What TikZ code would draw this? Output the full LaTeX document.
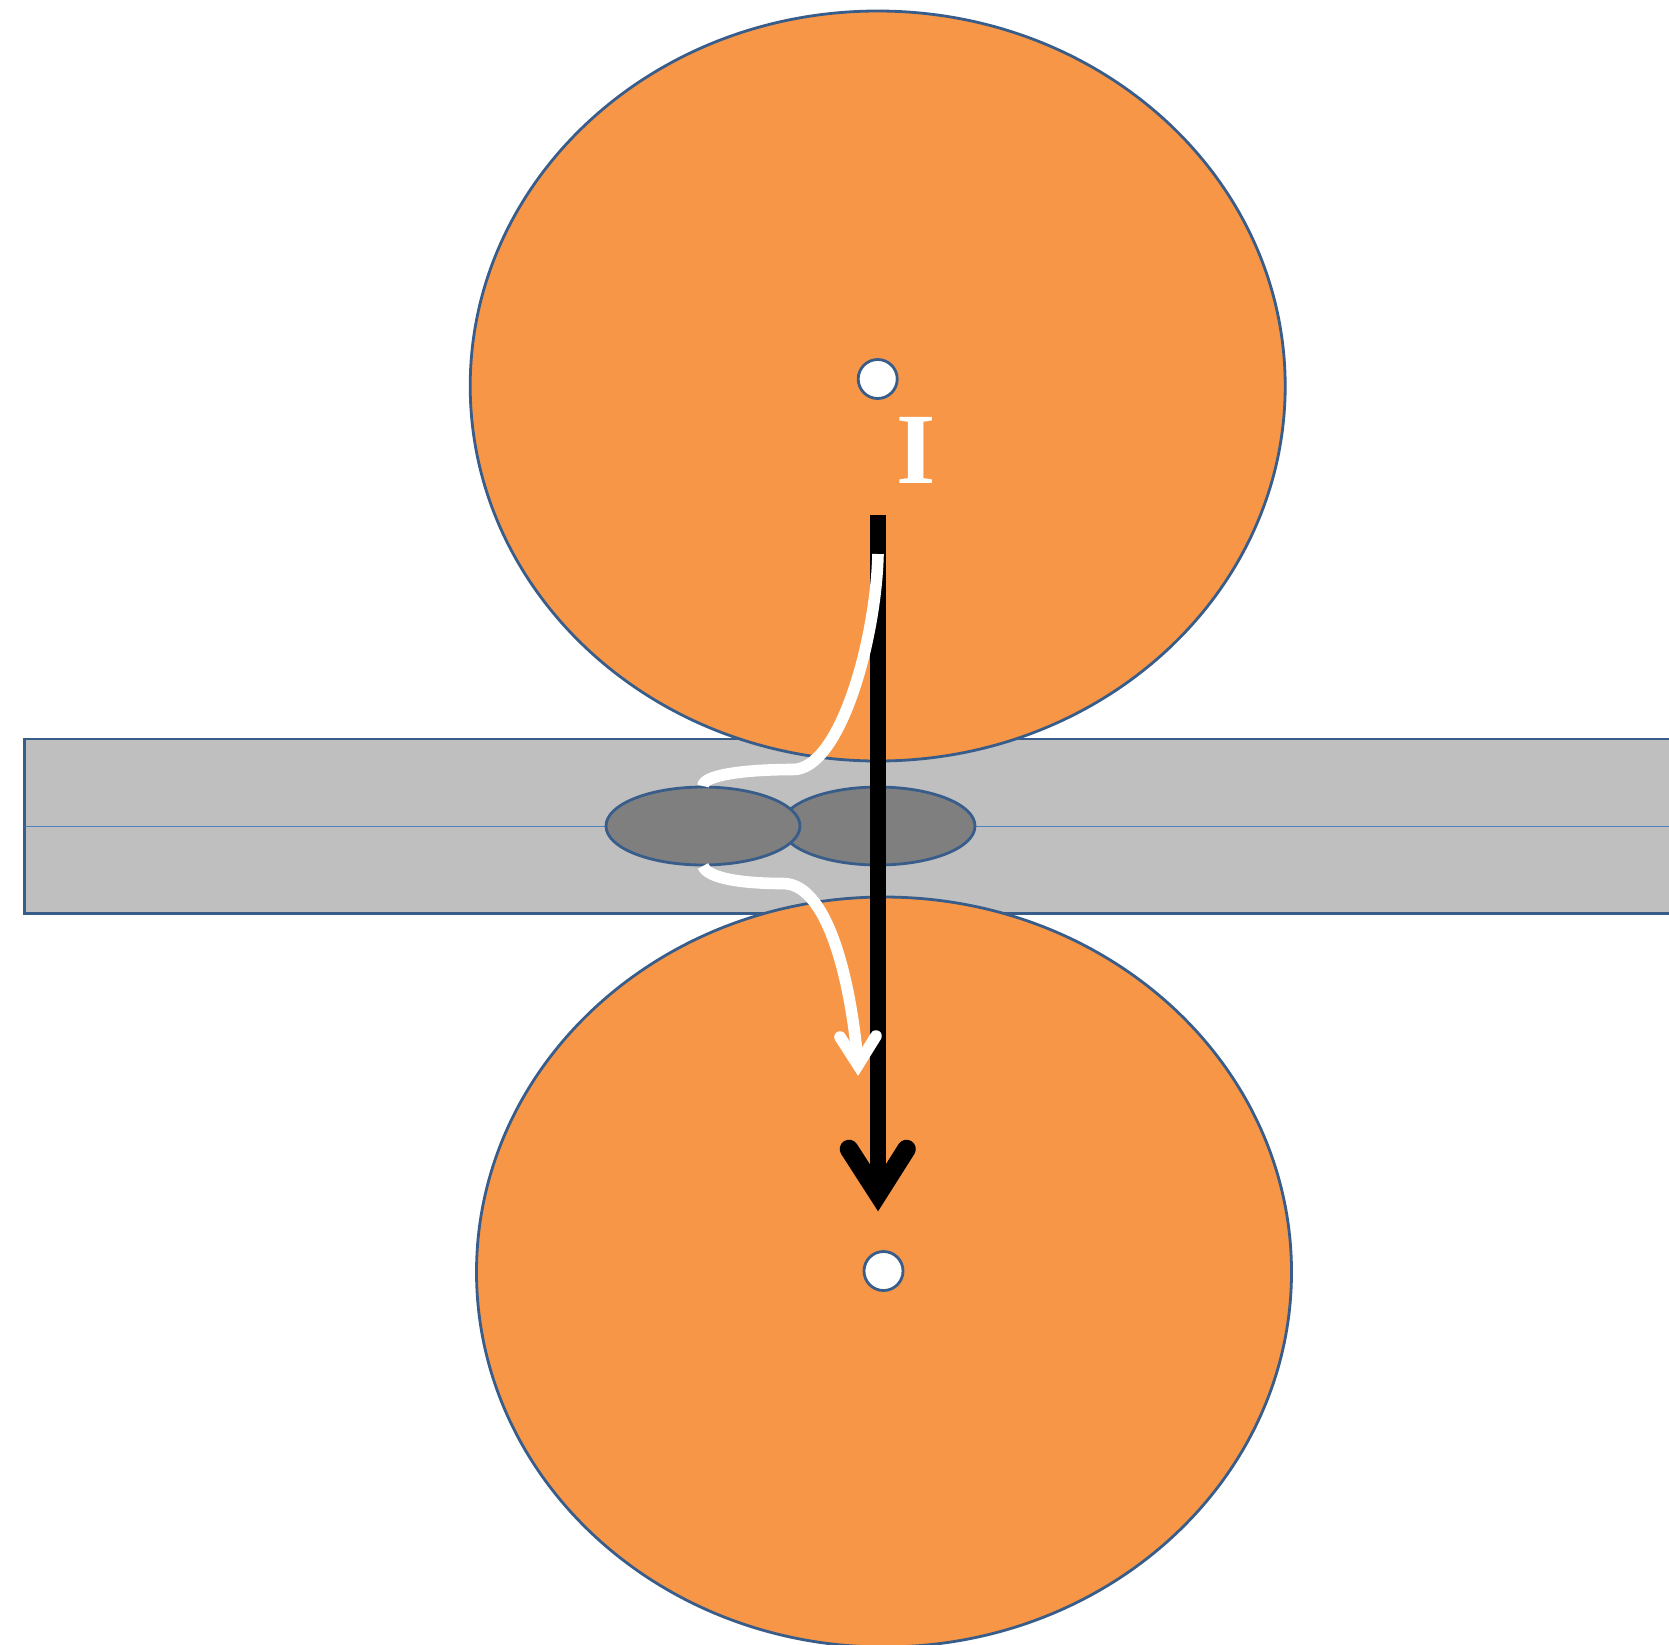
\documentclass[tikz,border=0pt]{standalone}
\usepackage{fontspec}
\setmainfont{Liberation Serif}
\usetikzlibrary{shapes.geometric}
\definecolor{orangefill}{HTML}{F79646}
\definecolor{stripfill}{HTML}{BFBFBF}
\definecolor{zonefill}{HTML}{7F7F7F}
\definecolor{edgeblue}{HTML}{385D8A}
\definecolor{midblue}{HTML}{4F81BD}
\tikzset{
  rollerbody/.style={ellipse,draw=edgeblue,fill=orangefill,line width=1.4pt,inner sep=0pt,minimum width=407.5pt,minimum height=375pt},
  axlehole/.style={circle,draw=edgeblue,fill=white,line width=1.4pt,inner sep=0pt,minimum size=19.5pt},
  weldzone/.style={ellipse,draw=edgeblue,fill=zonefill,line width=1.4pt,inner sep=0pt,minimum width=97pt,minimum height=39pt},
  flowpath/.style={draw=white,line width=5.8pt,line cap=butt},
  flowhead/.style={draw=white,line width=5.8pt,line cap=round,line join=miter,miter limit=10},
  currentpath/.style={draw=black,line width=8pt},
  currenthead/.style={draw=black,line width=9.3pt,line cap=round,line join=miter,miter limit=10}
}
\begin{document}
\begin{tikzpicture}[x=0.5pt,y=-0.5pt]
\useasboundingbox (0,0) rectangle (1669,1644);
\clip (0,0) rectangle (1669,1644);
\fill[white] (0,0) rectangle (1669,1644);
\node[draw=edgeblue,fill=stripfill,line width=1.4pt,rectangle,inner sep=0pt,outer sep=0pt,anchor=north west,minimum width=900pt,minimum height=87.4pt] (strip) at (24.5,739) {};
\coordinate (midL) at (strip.west);
\coordinate (midR) at (1669,826.4);
\draw[midblue,line width=0.4pt] (midL) -- (midR);
\node[rollerbody] (top) at (877.7,386) {};
\node[rollerbody] (bottom) at (884,1272) {};
\node[axlehole] (holeT) at (877.7,379) {};
\node[axlehole] (holeB) at (883.5,1271) {};
\node[text=white,font=\fontsize{50.5}{50.5}\selectfont\bfseries,inner sep=0pt] (label) at (916.3,450) {I};
\coordinate (curS) at (878,515);
\coordinate (curE) at (878,1194);
\coordinate (curL) at (849,1149);
\coordinate (curR) at (906.5,1149);
\node[weldzone] (zoneR) at (878,826) {};
\draw[currentpath] (curS) -- (curE);
\draw[currenthead] (curL) -- (curE) -- (curR);
\node[weldzone] (zoneL) at (703,826) {};
\coordinate (upS) at (878,554);
\coordinate (upM) at (793,769.5);
\coordinate (upE) at (703,786);
\draw[flowpath] (upS) .. controls (876,640) and (840,769.5) .. (upM) .. controls (745,769.5) and (703,775) .. (upE);
\coordinate (loS) at (703,866);
\coordinate (loM) at (783,883.5);
\coordinate (loE) at (858,1065);
\coordinate (loL) at (840,1037);
\coordinate (loR) at (876,1036);
\draw[flowpath] (loS) .. controls (708,879) and (745,883.5) .. (loM) .. controls (830,883.5) and (852,990) .. (loE);
\draw[flowhead] (loL) -- (loE) -- (loR);
\end{tikzpicture}
\end{document}
